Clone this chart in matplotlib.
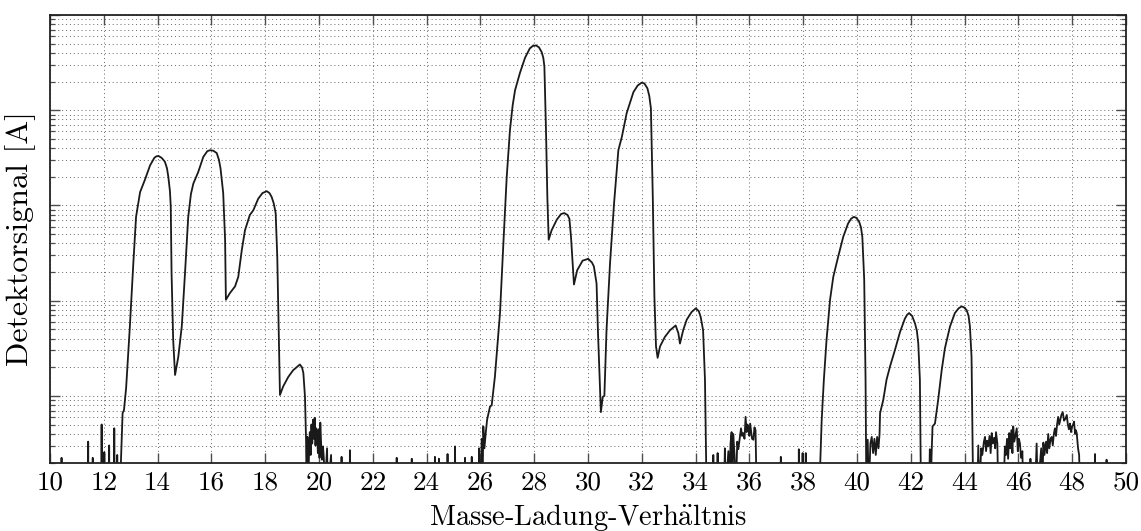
import numpy as np
import matplotlib.pyplot as plt
from matplotlib.ticker import LogLocator, NullFormatter, MultipleLocator

plt.rcParams['font.family'] = ['cmr10', 'DejaVu Serif']
plt.rcParams['mathtext.fontset'] = 'cm'
plt.rcParams['axes.unicode_minus'] = False

# log10 of the detector signal; FLOOR lies below the lower axis limit
FLOOR = -11.0

# isolated single spikes: (m/z, log10 signal)
spikes = [
    (10.43, -10.65), (11.42, -10.48), (11.59, -10.65), (11.92, -10.30),
    (12.02, -10.59), (12.20, -10.52), (12.39, -10.34), (12.50, -10.62),
    (20.84, -10.64), (21.15, -10.57), (22.89, -10.65), (23.45, -10.66),
    (24.31, -10.64), (24.46, -10.66), (24.78, -10.61), (25.06, -10.53),
    (25.43, -10.65), (25.68, -10.64), (25.95, -10.55),
    (34.66, -10.62), (34.82, -10.60),
    (37.17, -10.64), (37.84, -10.56), (37.98, -10.60), (38.10, -10.60),
    (46.45, -10.66), (48.85, -10.61), (49.28, -10.67),
]

# m/z 12.6 - 19.6 (peaks at 14, 16, 18)
group_14_18 = [
    (12.60, FLOOR), (12.70, -10.18), (12.75, -10.15), (12.83, -9.92),
    (12.97, -9.27), (13.10, -8.60), (13.20, -8.12), (13.35, -7.86),
    (13.53, -7.73), (13.72, -7.58), (13.88, -7.50), (13.95, -7.485),
    (14.03, -7.48), (14.15, -7.50), (14.27, -7.54), (14.35, -7.61),
    (14.40, -7.70), (14.46, -7.85), (14.49, -8.01), (14.52, -8.71),
    (14.58, -9.41), (14.65, -9.78), (14.77, -9.59), (14.90, -9.27),
    (15.02, -8.71), (15.14, -8.12), (15.24, -7.88), (15.33, -7.77),
    (15.51, -7.65), (15.70, -7.49), (15.85, -7.43), (15.95, -7.42),
    (16.07, -7.425), (16.20, -7.45), (16.28, -7.52), (16.34, -7.61),
    (16.44, -7.87), (16.51, -8.36), (16.54, -8.99), (16.69, -8.92),
    (16.88, -8.85), (17.00, -8.75), (17.13, -8.47), (17.25, -8.26),
    (17.43, -8.10), (17.56, -8.05), (17.74, -7.93), (17.90, -7.87),
    (18.06, -7.85), (18.16, -7.87), (18.24, -7.91), (18.32, -7.98),
    (18.39, -8.08), (18.45, -8.54), (18.51, -9.41), (18.55, -9.99),
    (18.67, -9.90), (18.86, -9.80), (19.04, -9.73), (19.29, -9.67),
    (19.37, -9.70), (19.42, -9.76), (19.48, -10.01), (19.52, -10.46),
    (19.54, FLOOR),
]

noise_20 = [
    (19.57, -10.43), (19.60, FLOOR), (19.63, -10.60), (19.66, -10.38),
    (19.69, -10.62), (19.72, -10.30), (19.75, -10.50), (19.78, -10.25),
    (19.81, -10.45), (19.84, -10.23), (19.87, -10.52), (19.90, -10.34),
    (19.93, -10.40), (19.96, -10.60), (19.99, -10.35), (20.02, -10.65),
    (20.05, -10.28), (20.08, -10.50), (20.11, -10.67), (20.15, -10.53),
    (20.18, -10.65), (20.22, FLOOR), (20.30, -10.55), (20.33, FLOOR),
    (20.45, -10.62), (20.48, FLOOR),
]

# m/z 26 - 34.4 (peaks at 28, 29, 30, 32, 33, 34)
group_28_34 = [
    (26.00, FLOOR), (26.05, -10.45), (26.08, FLOOR), (26.11, -10.32),
    (26.15, -10.55), (26.20, -10.39), (26.25, -10.25), (26.36, -10.11),
    (26.42, -10.10), (26.54, -9.80), (26.73, -9.13), (26.85, -8.43),
    (26.98, -7.70), (27.10, -7.21), (27.20, -6.95), (27.29, -6.79),
    (27.47, -6.61), (27.66, -6.45), (27.84, -6.35), (27.95, -6.325),
    (28.07, -6.32), (28.18, -6.34), (28.28, -6.39), (28.34, -6.45),
    (28.38, -6.54), (28.44, -7.21), (28.49, -7.91), (28.54, -8.36),
    (28.65, -8.26), (28.84, -8.15), (29.00, -8.09), (29.12, -8.08),
    (29.24, -8.10), (29.31, -8.14), (29.37, -8.33), (29.43, -8.61),
    (29.48, -8.83), (29.60, -8.68), (29.80, -8.58), (30.01, -8.56),
    (30.15, -8.60), (30.22, -8.64), (30.32, -8.82), (30.37, -9.31),
    (30.45, -9.94), (30.48, -10.17), (30.55, -10.01), (30.61, -10.00),
    (30.69, -9.31), (30.82, -8.61), (30.97, -7.98), (31.13, -7.42),
    (31.26, -7.28), (31.44, -7.03), (31.69, -6.81), (31.85, -6.74),
    (32.00, -6.71), (32.10, -6.72), (32.21, -6.77), (32.28, -6.85),
    (32.34, -6.98), (32.41, -7.91), (32.47, -8.96), (32.53, -9.48),
    (32.59, -9.60), (32.68, -9.48), (32.86, -9.38), (33.05, -9.31),
    (33.26, -9.26), (33.36, -9.34), (33.42, -9.45), (33.54, -9.31),
    (33.67, -9.20), (33.85, -9.12), (34.01, -9.08), (34.12, -9.11),
    (34.19, -9.17), (34.28, -9.31), (34.35, -9.83), (34.41, FLOOR),
]

noise_36 = [
    (35.06, FLOOR), (35.09, -10.55), (35.12, FLOOR), (35.22, -10.58),
    (35.26, FLOOR), (35.30, -10.50), (35.34, -10.38), (35.37, FLOOR),
    (35.40, -10.40), (35.45, -10.62), (35.50, FLOOR), (35.55, -10.48),
    (35.59, -10.56), (35.64, -10.45), (35.69, -10.34), (35.73, -10.42),
    (35.77, -10.39), (35.82, -10.45), (35.86, -10.22), (35.90, -10.38),
    (35.93, -10.30), (35.96, -10.33), (36.00, -10.42), (36.03, -10.29),
    (36.06, -10.36), (36.10, -10.45), (36.15, -10.46), (36.19, -10.33),
    (36.23, -10.36), (36.27, FLOOR),
]

# m/z 38.6 - 44.3 (peaks at 40, 42, 44)
group_40_44 = [
    (38.60, FLOOR), (38.69, -10.25), (38.77, -9.83), (38.87, -9.41),
    (39.00, -8.99), (39.12, -8.75), (39.30, -8.54), (39.49, -8.33),
    (39.67, -8.19), (39.78, -8.14), (39.88, -8.12), (39.98, -8.13),
    (40.08, -8.17), (40.15, -8.23), (40.20, -8.33), (40.27, -8.78),
    (40.32, -9.83), (40.35, FLOOR),
    (40.40, -10.46), (40.44, FLOOR), (40.50, -10.50), (40.55, -10.43),
    (40.60, -10.60), (40.65, -10.45), (40.70, -10.62), (40.75, -10.43),
    (40.80, -10.55), (40.84, -10.40),
    (40.86, -10.18), (40.98, -10.04), (41.10, -9.83), (41.23, -9.69),
    (41.41, -9.52), (41.60, -9.33), (41.78, -9.19), (41.86, -9.15),
    (41.94, -9.13), (42.05, -9.16), (42.16, -9.24), (42.23, -9.32),
    (42.28, -9.45), (42.34, -9.83), (42.38, FLOOR),
    (42.68, FLOOR), (42.71, -10.56), (42.74, FLOOR),
    (42.78, -10.57), (42.81, -10.32), (42.90, -10.29), (43.02, -10.04),
    (43.15, -9.73), (43.27, -9.50), (43.46, -9.27), (43.64, -9.13),
    (43.78, -9.08), (43.89, -9.06), (43.98, -9.07), (44.08, -9.10),
    (44.15, -9.16), (44.20, -9.27), (44.26, -9.59), (44.32, FLOOR),
]

noise_45 = [
    (44.48, FLOOR), (44.51, -10.52), (44.55, FLOOR), (44.62, -10.55),
    (44.66, -10.62), (44.72, -10.48), (44.76, -10.43), (44.80, -10.58),
    (44.84, -10.47), (44.88, -10.53), (44.93, -10.42), (44.97, -10.60),
    (45.01, -10.39), (45.05, -10.50), (45.10, -10.44), (45.14, -10.55),
    (45.17, -10.38), (45.22, -10.50), (45.25, FLOOR), (45.45, FLOOR),
    (45.50, -10.53), (45.54, -10.62), (45.58, -10.45), (45.62, -10.66),
    (45.66, -10.39), (45.70, -10.55), (45.74, -10.36), (45.78, -10.60),
    (45.81, -10.32), (45.85, -10.48), (45.90, -10.40), (45.94, -10.34),
    (45.98, -10.58), (46.02, -10.45), (46.06, -10.50), (46.10, -10.65),
    (46.15, -10.58), (46.18, FLOOR),
]

noise_48 = [
    (46.62, FLOOR), (46.68, -10.50), (46.72, FLOOR), (46.85, -10.55),
    (46.89, FLOOR), (46.93, -10.49), (46.97, -10.62), (47.03, -10.48),
    (47.07, -10.60), (47.11, -10.40), (47.15, -10.55), (47.20, -10.45),
    (47.24, -10.43), (47.28, -10.52), (47.32, -10.40), (47.36, -10.34),
    (47.40, -10.42), (47.44, -10.30), (47.48, -10.22), (47.52, -10.30),
    (47.56, -10.25), (47.60, -10.20), (47.65, -10.17), (47.70, -10.26),
    (47.75, -10.24), (47.80, -10.20), (47.84, -10.30), (47.88, -10.35),
    (47.92, -10.29), (47.96, -10.38), (48.00, -10.32), (48.04, -10.30),
    (48.07, -10.27), (48.11, -10.40), (48.14, -10.36), (48.17, -10.39),
    (48.22, -10.55), (48.26, -10.62), (48.29, FLOOR),
]

# assemble one trace
pts = [(10.0, FLOOR), (50.0, FLOOR)]
for m, v in spikes:
    pts += [(m - 0.006, FLOOR), (m, v), (m + 0.006, FLOOR)]
for seg in (group_14_18, noise_20, group_28_34, noise_36,
            group_40_44, noise_45, noise_48):
    pts += seg
pts.sort(key=lambda p: p[0])
mz = np.array([p[0] for p in pts])
signal = 10.0 ** np.array([p[1] for p in pts])

fig = plt.figure(figsize=(11.41, 5.31), dpi=100)
ax = fig.add_axes([0.0438, 0.129, 0.943, 0.8428])

ax.plot(mz, signal, color='#1a1a1a', lw=1.3, solid_joinstyle='round')

ax.set_yscale('log')
ax.set_xlim(10, 50)
ax.set_ylim(2e-11, 1e-6)

ax.xaxis.set_major_locator(MultipleLocator(2))
ax.yaxis.set_major_locator(LogLocator(base=10, numticks=20))
ax.yaxis.set_minor_locator(LogLocator(base=10, subs=np.arange(2, 10), numticks=20))
ax.yaxis.set_major_formatter(NullFormatter())
ax.yaxis.set_minor_formatter(NullFormatter())

grid_kw = dict(ls=(0, (1, 3)), color='0.4', lw=0.7)
ax.grid(True, which='major', axis='x', **grid_kw)
ax.grid(True, which='both', axis='y', **grid_kw)

ax.tick_params(which='major', direction='in', length=7.5, width=1.0,
               top=True, right=True, labelsize=19.5, pad=6, color='0.3')
ax.tick_params(which='minor', direction='in', length=3.5, width=0.9,
               top=True, right=True, color='0.3')
for s in ax.spines.values():
    s.set_linewidth(1.3)
    s.set_color('#222222')

ax.set_xlabel(r'Masse-Ladung-Verh$\ddot{\mathrm{a}}$ltnis', fontsize=20.5, labelpad=5)
ax.set_ylabel('Detektorsignal [A]', fontsize=23, labelpad=4)

fig.savefig('out.png', dpi=100)
